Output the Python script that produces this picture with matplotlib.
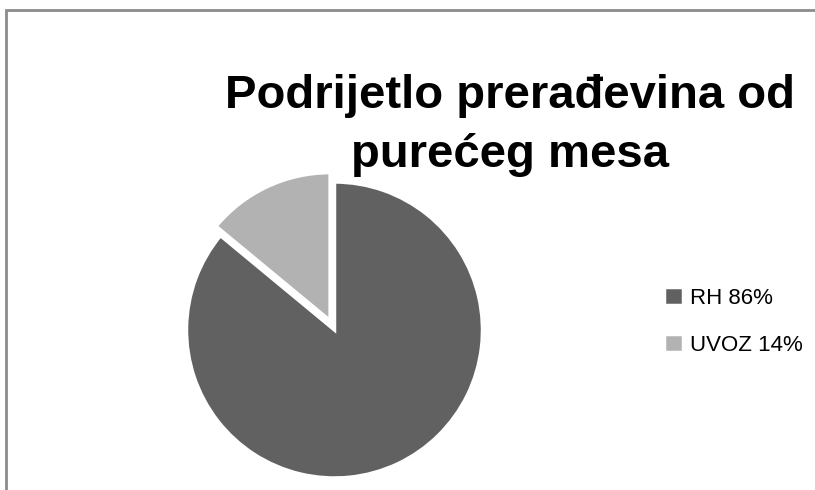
import matplotlib

matplotlib.use("Agg")

import matplotlib.pyplot as plt
from matplotlib.patches import Rectangle

labels = ["RH 86%", "UVOZ 14%"]
shares = [86, 14]
colors = ["#616161", "#b2b2b2"]
explode = [0.0, 0.07]
title = "Podrijetlo prerađevina od\npurećeg mesa"

plt.rcParams["font.family"] = ["Liberation Sans", "DejaVu Sans"]

fig = plt.figure(figsize=(8.15, 4.9), dpi=100)

# outer chart frame (right/bottom edges fall outside the picture)
fig.patches.append(
    Rectangle((6 / 815, -0.2), 1.2, 1.2 - 10 / 490,
              transform=fig.transFigure, fill=False,
              edgecolor="#8c8c8c", linewidth=2)
)

# pie centre ~ (334, 330) px, radius ~ 148 px
r_px = 148
ax = fig.add_axes([(334.5 - 1.2 * r_px) / 815, (160 - 1.2 * r_px) / 490,
                   2.4 * r_px / 815, 2.4 * r_px / 490])
wedges, _ = ax.pie(
    shares,
    colors=colors,
    explode=explode,
    startangle=90,
    counterclock=False,
    wedgeprops=dict(edgecolor="white", linewidth=2.5),
)
ax.set_xlim(-1.2, 1.2)
ax.set_ylim(-1.2, 1.2)
ax.set_aspect("equal")
ax.axis("off")

fig.text(0.626, 1 - 74 / 490, title, ha="center", va="top",
         fontsize=34, fontweight="bold", linespacing=1.45)

fig.legend(
    wedges, labels,
    loc="upper left", bbox_to_anchor=(0.815, 1 - 287 / 490),
    frameon=False, fontsize=16,
    handlelength=0.85, handleheight=0.85, handletextpad=0.3,
    labelspacing=1.15, borderpad=0, borderaxespad=0,
)

fig.savefig("out.png", dpi=100)
